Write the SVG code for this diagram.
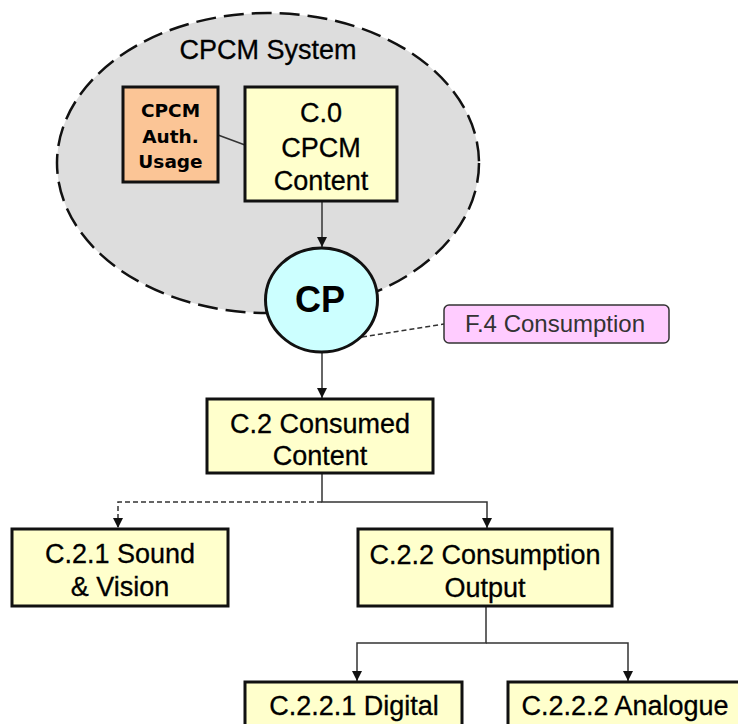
<svg xmlns="http://www.w3.org/2000/svg" width="738" height="724" viewBox="0 0 738 724">
<defs>
<marker id="ah" viewBox="0 0 10 10" refX="10" refY="5" markerWidth="10" markerHeight="10" markerUnits="userSpaceOnUse" orient="auto">
<path d="M0,0 L10,5 L0,10 z" fill="#111"/>
</marker>
<style>
.box{fill:#FFFFCC;stroke:#111;stroke-width:3}
.t{font-family:"Liberation Sans",Arial,sans-serif;font-size:27px;fill:#000;text-anchor:middle;stroke:#000;stroke-width:0.3}
.a{font-family:"DejaVu Sans",Verdana,sans-serif;font-size:18.5px;font-weight:bold;text-anchor:middle}
.conn{fill:none;stroke:#333;stroke-width:1.5}
.dash{stroke-dasharray:5,3}
</style>
</defs>
<g id="cpcm-system">
<ellipse cx="268" cy="163" rx="211" ry="150" fill="#DDDDDD" stroke="#111" stroke-width="2.5" stroke-dasharray="20,8"/>
<text class="t" x="268" y="59">CPCM System</text>
</g>
<g id="connectors">
<line class="conn" x1="218" y1="135" x2="245" y2="145" stroke-width="1"/>
<line class="conn" x1="322" y1="201" x2="322" y2="247" marker-end="url(#ah)"/>
<line class="conn" x1="322" y1="352" x2="322" y2="398" marker-end="url(#ah)"/>
<line class="conn dash" x1="362" y1="337" x2="444" y2="324" stroke-width="1"/>
<polyline class="conn" points="322,473 322,502 487,502 487,528" marker-end="url(#ah)"/>
<polyline class="conn dash" points="322,502 118,502 118,528" marker-end="url(#ah)"/>
<polyline class="conn" points="486,606 486,643 357,643 357,681" marker-end="url(#ah)"/>
<polyline class="conn" points="486,643 628,643 628,681" marker-end="url(#ah)"/>
</g>
<g id="auth-usage">
<rect x="123" y="87" width="95" height="95" fill="#FBC596" stroke="#111" stroke-width="3"/>
<text class="a" x="170.5" y="117">CPCM</text>
<text class="a" x="170.5" y="143">Auth.</text>
<text class="a" x="170.5" y="168">Usage</text>
</g>
<g id="c0">
<rect class="box" x="245" y="87" width="152" height="114"/>
<text class="t" x="321" y="122">C.0</text>
<text class="t" x="321" y="157">CPCM</text>
<text class="t" x="321" y="190">Content</text>
</g>
<g id="cp">
<ellipse cx="321.5" cy="300" rx="56" ry="52" fill="#CCFFFF" stroke="#111" stroke-width="3"/>
<text x="320" y="312" font-family="'Liberation Sans',Arial,sans-serif" font-size="36" font-weight="bold" text-anchor="middle">CP</text>
</g>
<g id="f4">
<rect x="444" y="305" width="225" height="38" rx="5" fill="#FFCCFF" stroke="#333" stroke-width="1.5"/>
<text x="555" y="332" font-family="'Liberation Sans',Arial,sans-serif" font-size="24" fill="#333" text-anchor="middle">F.4 Consumption</text>
</g>
<g id="c2">
<rect class="box" x="207" y="399" width="226" height="74"/>
<text class="t" x="320" y="433">C.2 Consumed</text>
<text class="t" x="320" y="465">Content</text>
</g>
<g id="c21">
<rect class="box" x="12" y="529" width="216" height="77"/>
<text class="t" x="120" y="563">C.2.1 Sound</text>
<text class="t" x="120" y="596">&amp; Vision</text>
</g>
<g id="c22">
<rect class="box" x="358" y="529" width="254" height="77"/>
<text class="t" x="485" y="564">C.2.2 Consumption</text>
<text class="t" x="485" y="597">Output</text>
</g>
<g id="c221">
<rect class="box" x="245" y="682" width="217" height="70"/>
<text class="t" x="354" y="715">C.2.2.1 Digital</text>
</g>
<g id="c222">
<rect class="box" x="508" y="682" width="240" height="70"/>
<text class="t" x="625" y="715">C.2.2.2 Analogue</text>
</g>
</svg>
